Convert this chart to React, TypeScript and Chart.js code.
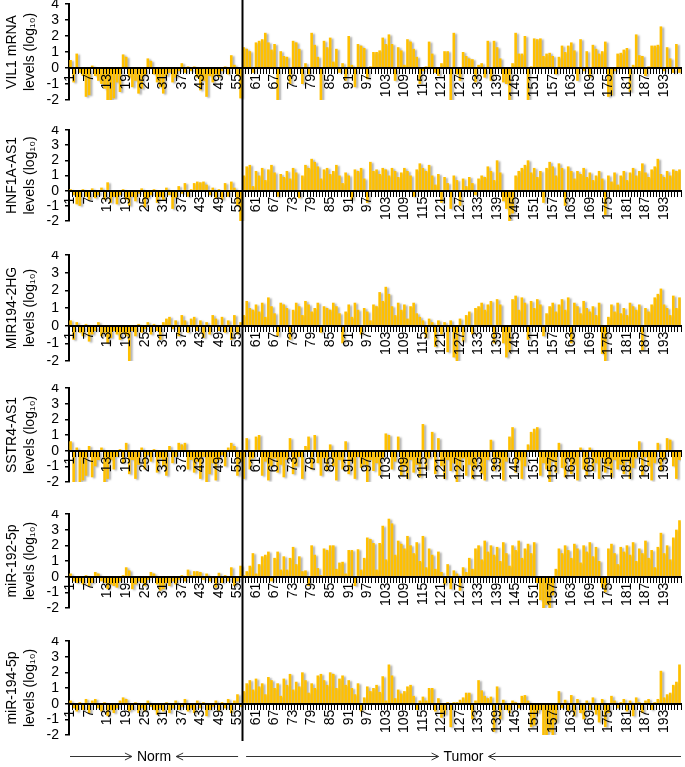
import React, { useEffect, useRef } from 'react';
import { Chart, registerables } from 'chart.js';

Chart.register(...registerables);

// ---------------- DATA ----------------
const SAMPLE_COUNT = 198;
const NORM_COUNT = 56;
const sampleLabels: string[] = Array.from({ length: SAMPLE_COUNT }, (_, i) => String(i + 1));
const LABEL_EVERY = 6;
const Y_MIN = -2;
const Y_MAX = 4;

const panelNames = ['VIL1 mRNA', 'HNF1A-AS1', 'MIR194-2HG', 'SSTR4-AS1', 'miR-192-5p', 'miR-194-5p'];
const unitLine = 'levels (log\u2081\u2080)';

const vil1 = [
  0.5, -0.9, 0.9, -0.3, -0.5, -1.8, -1.7, 0.15, -0.5, -0.8,
  -1.0, -1.3, -2.0, -2.0, -1.9, -0.9, -1.5, 0.85, 0.7, -0.6,
  -1.2, -0.8, -1.6, -1.3, -0.5, 0.6, 0.45, -0.4, -0.9, -1.2,
  -1.6, -0.5, -0.3, -0.9, -0.6, -0.2, 0.3, -0.3, 0.1, -0.2,
  0.1, -0.6, -1.4, -0.8, -1.8, -0.5, -0.9, -0.4, -0.6, -0.2,
  0.1, -0.4, 0.8, 0.2, -0.5, -1.9,
  1.3, 1.2, 1.05, -0.3,
  1.6, 1.7, 1.8, 2.2, 1.6, 1.15, 1.5, -2.0, 1.05, 0.75,
  0.7, -1.0, 1.7, 1.6, 1.2, -1.0, 0.3, -0.4, 2.2, 1.45,
  0.7, -2.0, 1.7, 1.3, 1.9, 0.4, 1.2, -0.3, 0.3, -0.8,
  2.0, 0.2, -1.2, 1.5, 1.4, 1.25, -0.7, 0.1, 1.0, 1.0,
  1.1, 1.9, 1.5, 2.1, 1.5, -0.8, 1.3, 1.1, 0.2, 1.8,
  1.65, 1.2, 0.7, -1.0, -0.2, 0.1, 1.65, 0.9, -0.3, -0.5,
  0.3, 1.05, 1.05, -2.0, 2.2, -0.4, -0.8, 1.0, 0.75, 0.6,
  0.55, -0.9, 0.2, 0.3, -0.6, 1.7, -0.8, 1.7, 1.3,
  0.6, -0.9, -1.0, -2.0, 0.3, 2.2, 0.9, 0.9, 2.0, -2.0,
  0.1, 1.85, 1.8, 1.85, 0.75, 0.9, 0.95, 0.75, -0.4, 0.7,
  1.4, 1.0, 1.4, 1.6, 1.1, -0.8, 1.8, -0.2, 1.05, -0.6,
  1.45, 1.2, 0.9, 1.05, 1.65, -1.8, -1.7, -0.2, 0.9, 0.95,
  1.15, 1.25, -1.5, 0.2, 2.1, 0.8, 0.75, -0.5, 0.1, 1.4,
  1.4, 1.45, 2.6, -0.2, 1.3, 0.6, -0.3, 1.5, -0.3,
];

const hnf1aAs1 = [
  0.1, -0.3, -0.9, -1.0, 0.1, -0.4, -0.6, 0.15, -0.5, -0.3,
  0.2, -0.6, 0.55, -0.8, -0.4, -0.9, -0.3, 0.1, -0.6, -1.0,
  -0.4, -0.7, -0.2, 0.15, -1.1, -0.5, -0.3, 0.1, -0.8, -0.4,
  -0.6, 0.2, -0.3, -1.2, -0.5, 0.3, -0.2, 0.5, -0.4, 0.1,
  0.5, 0.6, 0.55, 0.6, 0.4, -0.3, 0.2, -0.5, 0.1, -0.6,
  0.5, -0.4, 0.6, 0.2, -1.0, -2.0,
  1.0, 1.6, 1.7, 0.3,
  1.3, 1.0, 1.5, 0.7, 1.4, 1.7, 1.2, -0.4, 1.1, 0.9,
  1.3, 0.8, 1.5, 1.2, -0.5, 1.0, 1.7, 1.5, 2.1, 1.9,
  1.6, 0.8, 1.4, 1.5, 1.1, 1.3, 1.7, 1.0, 0.5, 1.2,
  1.0, -0.6, 1.4, 1.3, 1.5, 0.8, -0.8, 1.9, 1.3, 1.4,
  1.1, 1.5, 1.4, 1.0, 1.5, 1.3, 0.9, 1.2, 1.5, 1.3,
  1.0, -0.4, 1.4, 1.8, 1.5, 1.3, 1.7, 1.0, 0.4, 1.1,
  -0.8, 0.9, 0.5, -1.2, 1.0, 0.7, -1.0, 0.8, 0.3, 0.9,
  0.5, -0.3, 0.8, 1.0, 0.9, 1.6, 1.3, 0.7, 2.0,
  1.2, -0.7, -1.2, -2.0, -1.5, 1.0, 1.3, 1.5, 1.7, 2.0,
  1.2, 1.5, 0.9, 1.3, -0.8, 1.5, 1.9, 1.6, 1.0, 1.8,
  1.5, -1.0, 1.6, 1.3, 0.8, 1.3, 1.1, 1.5, 0.9, 1.2,
  0.7, 1.0, 1.3, 0.8, -1.6, 1.0, 0.6, 1.2, 0.4, 1.0,
  1.3, 0.7, 1.2, 1.5, 1.0, 1.3, 1.8, 1.2, 0.9, 1.4,
  1.6, 2.1, 1.1, 0.9, 1.3, 1.0, 1.4, 1.3, 1.4,
];

const mir1942hg = [
  0.3, -0.8, 0.2, -0.4, -0.6, 0.1, -0.9, -0.5, -0.3, 0.2,
  -0.6, -0.4, -1.0, -0.7, -0.3, -0.5, -0.8, -0.4, -0.6, -2.0,
  -0.3, -0.6, 0.1, -0.4, -0.2, 0.2, -0.5, 0.1, -0.3, -0.8,
  0.2, 0.4, 0.5, -0.2, 0.3, -0.6, 0.6, 0.3, -0.4, 0.4,
  0.5, -0.3, 0.3, -0.7, 0.2, -0.5, 0.6, 0.4, -0.3, 0.5,
  -0.4, 0.3, -0.8, 0.6, -0.5, 0.2,
  0.6, 1.4, 1.0, 0.9,
  1.2, 0.8, 1.3, 0.5, 1.6, 1.1, 0.7, -0.6, 1.3, 1.2,
  1.0, -0.8, 0.9, 1.3, 1.1, 0.6, 1.4, 1.2, 0.8, 1.0,
  1.3, -0.4, 1.1, 1.0, 0.9, 1.3, 1.1, 0.7, -1.0, 0.8,
  1.2, 0.5, 1.3, 0.9, -0.5, 1.0, 0.8, 0.3, 1.2, 1.1,
  1.9, 1.4, 2.2, 1.8, 1.1, 0.6, 1.3, 0.9, 1.2, 0.4,
  1.1, 1.3, 0.7, 0.5, 0.3, -0.7, 0.4, 0.2, -1.2, 0.3,
  -0.5, 0.2, -1.5, 0.3, -1.8, -2.0, 0.4, -0.9, 0.6, 0.8,
  -0.5, 1.0, 1.1, 1.3, 0.9, 1.2, 1.4, -1.0, 1.5,
  1.2, -1.0, -1.8, -1.5, 1.5, 1.7, 0.9, 1.6, 1.3, -0.8,
  1.4, 1.0, 1.5, 1.2, -0.6, 0.7, 1.1, 1.3, 0.8, 1.2,
  1.5, 0.9, 1.6, -1.0, 1.3, 1.1, 0.7, 1.4, 1.0, 0.8,
  1.1, 0.6, 1.3, -1.6, -2.0, 0.5, 1.2, 0.8, 1.3, 0.7,
  1.0, 0.6, 1.3, 1.1, 0.9, 1.2, -1.4, 1.0, 0.8, 1.2,
  1.6, 1.8, 2.1, 1.2, 1.0, 0.6, 1.7, 1.0, 1.6,
];

const sstr4As1 = [
  0.6, -2.0, 0.2, -2.0, -1.9, -1.6, 0.3, -1.7, -1.0, -0.6,
  0.2, -2.0, -1.8, -0.6, -1.2, -0.4, 0.1, -0.8, 0.5, -1.5,
  -0.6, -1.8, -0.9, 0.2, -1.2, -0.3, -0.7, 0.1, -1.4, -0.5,
  -1.0, -1.6, 0.3, -0.8, -0.4, 0.5, 0.4, 0.5, -1.2, -0.6,
  -1.4, -0.7, -1.8, -0.4, -2.0, -1.5, -0.8, -1.9, -0.6, -0.3,
  -1.0, 0.2, 0.5, 0.3, -1.6, -0.7,
  -1.8, 0.8, -1.2, -0.5,
  0.9, 1.0, -1.6, -0.7, -1.9, -1.0, -0.5, -1.4, -0.9, -1.7,
  -0.6, 0.8, -1.5, -1.0, -0.4, -1.8, 0.3, 0.9, -1.2, 1.0,
  -0.8, -1.6, -0.5, -1.3, 0.4, -1.0, -1.9, -0.6, -1.2, 0.6,
  -1.5, -0.7, -1.8, -0.4, -1.1, -0.9, -2.0, -0.6, -1.3, -0.8,
  -1.6, -0.5, 1.1, 1.0, -1.2, -0.7, 0.9, -1.6, -1.0, -1.8,
  -0.6, -1.4, -0.9, -1.7, 1.7, -1.2, -0.5, 1.2, -1.5, 0.8,
  -1.0, -1.8, -0.6, -1.3, -0.8, -2.0, -1.2, -0.5, -1.6, -0.9,
  -1.8, -1.1, -0.4, -1.5, -1.9, -0.6, 0.7, -1.3, -0.5,
  -1.2, -1.9, -0.7, 0.9, 1.5, -1.4, -0.6, -1.8, -1.0, 0.4,
  1.2, 1.4, 1.5, -1.6, -0.8, -1.2, -2.0, -0.7, -1.4, 0.5,
  -1.1, -1.7, -0.5, -1.5, -0.9, -1.9, 0.2, -1.2, -1.6, 0.2,
  -1.3, -0.8, -1.8, -0.5, -1.4, -1.0, -1.7, -0.6, -1.2, -0.9,
  -1.5, -0.7, -1.8, -1.1, -0.5, 0.6, -1.6, -0.4, -1.0, -1.9,
  -0.8, 0.5, -1.3, -0.6, 0.8, 0.7, -1.0, -1.8, -0.6,
];

const mir1925p = [
  0.2, -0.3, -0.4, -0.3, -0.5, 0.1, -0.6, -0.4, 0.3, 0.2,
  -0.3, -0.4, -0.8, -0.5, -0.6, -0.7, -0.3, 0.1, 0.6, 0.4,
  -0.8, -0.5, -0.3, -0.4, -0.6, -0.2, 0.3, 0.2, -0.5, -0.9,
  -0.8, -0.4, -0.6, -0.3, -0.5, -0.2, 0.1, -0.3, 0.45, 0.1,
  0.35, 0.35, 0.3, -0.2, 0.2, -0.3, -0.1, -0.7, 0.25, -0.4,
  0.1, -0.3, 0.6, -0.6, -0.3, 0.7,
  0.1, 0.35, 0.7, 1.5,
  0.2, 0.8, 1.3, 1.4, 1.6, -0.3, 1.2, 1.6, 0.45, 1.3,
  0.45, 1.2, 1.9, 0.8, 1.3, 0.35, 0.4, -0.6, 2.0, 1.4,
  0.55, 0.1, 1.8, 1.7, 2.0, 2.0, 0.5, 0.9, 0.95, 0.2,
  1.7, 1.7, -0.6, 1.75, 0.45, 1.2, 2.5, 2.4, 2.15, 0.45,
  2.15, 3.25, 1.1, 3.7, 3.4, 1.4, 2.3, 2.1, 1.8, 2.6,
  2.0, 1.5, 2.2, 1.0, 2.6, 0.6, 1.8, 1.4, 0.5, 1.6,
  0.3, -0.5, 0.8, -0.8, 0.4, 0.2, -0.9, 0.6, 0.3, 1.2,
  0.5, 1.8, 2.0, 1.1, 2.3, 1.6, 2.0, 1.4, 1.9,
  1.0, 2.2, 1.5, 0.7, 2.0, 1.7, 2.3, 1.2, 1.8, 2.1,
  1.5, 2.2, -0.4, -1.5, -2.0, -1.8, -2.0, -1.2, 0.5, 1.8,
  1.5, 2.0, 1.7, 1.2, 2.1, 1.8, 0.9, 2.0, 1.6, 2.2,
  1.3, 1.9, 1.0, -0.7, -1.0, 1.8, 2.1, 1.5, 0.8, 1.9,
  1.6, 2.0, 1.4, 2.2, 1.0, 1.8, 1.5, 2.3, 1.2, 1.7,
  0.6, 1.9, 2.8, 1.5, 2.0, 1.1, 2.5, 3.0, 3.6,
];

const mir1945p = [
  0.2, -0.3, -0.5, 0.1, -0.4, 0.3, -0.6, 0.2, 0.3, -0.3,
  -0.5, 0.1, -0.8, -0.4, -0.6, -0.3, 0.2, 0.4, 0.3, -0.5,
  -0.4, 0.1, -0.6, -0.3, -0.5, 0.2, -0.2, -0.4, -0.7, -0.3,
  -0.5, 0.1, -0.6, -0.3, 0.2, -0.4, -0.2, 0.3, -0.5, -0.3,
  -0.6, 0.2, -0.3, 0.1, -0.8, -0.4, -0.2, 0.2, -0.5, 0.1,
  -0.3, 0.3, -0.6, 0.2, 0.6, -0.2,
  0.8, 1.3, 1.5, 0.9,
  1.6, 1.1, 1.3, 0.6, 1.7, 1.5, 1.0, 1.3, 0.5, 1.6,
  1.2, 1.9, 0.9, 1.4, 1.1, 2.0, 1.5, 0.7, 1.3, 1.0,
  1.8, 1.9, 1.5, 1.2, 2.0, 1.9, 1.0, 1.6, 1.8, 1.2,
  1.5, 1.0, 0.6, 1.3, -0.5, 0.4, 1.1, 0.8, 1.0, 1.2,
  0.75, 1.75, 0.2, 2.5, 1.8, 0.35, 0.9, 0.65, 0.8, 1.1,
  1.2, 0.5, -0.4, 0.2, 0.45, 0.2, 1.0, 1.0, -0.5, 0.35,
  -0.9, -0.7, 0.1, -1.5, 0.1, 0.1, 0.25, 0.4, 0.7, 0.7,
  -1.0, 0.2, 1.5, 0.85, 0.5, 0.35, 0.45, -1.8, 1.1,
  -1.0, 0.25, -0.4, -0.6, 0.2, 0.1, -0.3, 0.5, 0.55, 0.2,
  -1.5, -1.4, -0.6, -0.4, -2.0, -2.0, -1.8, -2.0, -1.2, 0.8,
  -0.3, 0.25, -0.5, 0.55, -0.8, 0.3, -0.6, -1.0, 0.2, -0.4,
  0.4, -0.7, -1.2, 0.3, -1.5, -0.6, 0.5, 0.2, -0.3, 0.1,
  0.3, -0.5, 0.2, -0.8, 0.4, 0.1, -0.6, 0.2, 0.3, -0.4,
  0.1, 0.3, 2.1, 0.4, 0.6, 0.7, 1.2, 1.4, 2.5,
];

const panelSeries = [vil1, hnf1aAs1, mir1942hg, sstr4As1, mir1925p, mir1945p];

// ---------------- LAYOUT / STYLE ----------------
const PAGE_W = 685;
const PAGE_H = 767;
const AREA_TOPS = [4, 130, 255, 388, 514, 641];
const AREA_HEIGHTS = [96, 91, 106, 94, 94, 94];
const CANVAS_PAD_TOP = 4;
const AREA_LEFT = 69;
const AREA_RIGHT_PAD = 4;
const BAR_COLOR = '#FFC000';
const FONT_FAMILY = 'Arial, "Liberation Sans", Helvetica, sans-serif';

function canvasTop(i: number) {
  return AREA_TOPS[i] - CANVAS_PAD_TOP;
}
function canvasHeight(i: number) {
  return i < AREA_TOPS.length - 1 ? canvasTop(i + 1) - canvasTop(i) : PAGE_H - canvasTop(i);
}

function dividerX(chart: any) {
  const xs = chart.scales.x;
  return (xs.getPixelForValue(NORM_COUNT - 1) + xs.getPixelForValue(NORM_COUNT)) / 2;
}

const shadowPlugin = {
  id: 'barShadow',
  beforeDatasetsDraw(chart: any) {
    const c = chart.ctx;
    c.save();
    c.shadowColor = 'rgba(0,0,0,0.33)';
    c.shadowBlur = 2;
    c.shadowOffsetX = 2;
    c.shadowOffsetY = 1;
  },
  afterDatasetsDraw(chart: any) {
    chart.ctx.restore();
  },
};

function makeDividerPlugin(isLast: boolean) {
  return {
    id: 'normTumorDivider',
    afterDraw(chart: any) {
      const c = chart.ctx;
      const x = Math.round(dividerX(chart)) + 0.5;
      const yEnd = isLast ? chart.chartArea.bottom + 6 : chart.height;
      c.save();
      c.strokeStyle = '#000';
      c.lineWidth = 2;
      c.beginPath();
      c.moveTo(x, 0);
      c.lineTo(x, yEnd);
      c.stroke();
      c.restore();
    },
  };
}

function drawArrow(c: any, x1: number, x2: number, y: number) {
  const dir = x2 > x1 ? 1 : -1;
  c.beginPath();
  c.moveTo(x1, y);
  c.lineTo(x2, y);
  c.moveTo(x2 - dir * 7, y - 3.5);
  c.lineTo(x2, y);
  c.lineTo(x2 - dir * 7, y + 3.5);
  c.stroke();
}

const groupAnnotationPlugin = {
  id: 'groupAnnotation',
  afterDraw(chart: any) {
    const c = chart.ctx;
    const area = chart.chartArea;
    const div = dividerX(chart);
    const y = chart.height - 10.5;
    c.save();
    c.strokeStyle = '#333';
    c.lineWidth = 1;
    c.fillStyle = '#000';
    c.font = `14px ${FONT_FAMILY}`;
    c.textAlign = 'center';
    c.textBaseline = 'middle';

    const groups = [
      { name: 'Norm', from: area.left + 1, to: div - 4 },
      { name: 'Tumor', from: div + 4, to: area.right },
    ];
    for (const g of groups) {
      const mid = (g.from + g.to) / 2;
      const half = c.measureText(g.name).width / 2 + 5;
      drawArrow(c, g.from, mid - half, y);
      c.fillText(g.name, mid, y + 1);
      drawArrow(c, g.to, mid + half, y);
    }
    c.restore();
  },
};

function Panel({ index }: { index: number }) {
  const ref = useRef<HTMLCanvasElement | null>(null);
  const isLast = index === panelNames.length - 1;
  const height = canvasHeight(index);

  useEffect(() => {
    if (!ref.current) return;
    const tickFont = { family: FONT_FAMILY, size: 14 };
    const plugins: any[] = [shadowPlugin, makeDividerPlugin(isLast)];
    if (isLast) plugins.push(groupAnnotationPlugin);

    const chart = new Chart(ref.current, {
      type: 'bar',
      data: {
        labels: sampleLabels,
        datasets: [
          {
            data: panelSeries[index],
            backgroundColor: BAR_COLOR,
            borderWidth: 0,
            barPercentage: 1,
            categoryPercentage: 0.85,
          },
        ],
      },
      plugins,
      options: {
        animation: false,
        responsive: false,
        maintainAspectRatio: false,
        events: [],
        layout: {
          padding: {
            left: 0,
            right: AREA_RIGHT_PAD,
            top: CANVAS_PAD_TOP,
            bottom: height - CANVAS_PAD_TOP - AREA_HEIGHTS[index],
          },
        },
        plugins: {
          legend: { display: false },
          tooltip: { enabled: false },
          title: { display: false },
        },
        scales: {
          x: {
            type: 'category',
            position: { y: 0 } as any,
            grid: {
              display: true,
              drawOnChartArea: false,
              drawTicks: true,
              tickLength: 5,
              color: '#000',
              lineWidth: 1,
              z: 1,
            },
            border: { display: true, color: '#000', width: 2, z: 1 },
            ticks: {
              autoSkip: false,
              minRotation: 90,
              maxRotation: 90,
              padding: 1,
              color: '#000',
              font: tickFont,
              z: 1,
              callback: (_v: any, i: number) => (i % LABEL_EVERY === 0 ? sampleLabels[i] : ''),
            },
            afterFit: (scale: any) => {
              scale.paddingLeft = 0;
              scale.paddingRight = 0;
            },
          },
          y: {
            min: Y_MIN,
            max: Y_MAX,
            grid: {
              display: true,
              drawOnChartArea: false,
              drawTicks: true,
              tickLength: 4,
              color: '#000',
              lineWidth: 1.5,
            },
            border: { display: true, color: '#000', width: 2 },
            ticks: {
              stepSize: 1,
              autoSkip: false,
              padding: 6,
              color: '#000',
              font: tickFont,
              callback: (v: any) => String(v),
            },
            title: {
              display: true,
              text: [panelNames[index], unitLine],
              color: '#000',
              font: { family: FONT_FAMILY, size: 14, lineHeight: 1.3 },
              padding: { top: 3, bottom: 0 },
            },
            afterFit: (scale: any) => {
              scale.width = AREA_LEFT;
              scale.paddingTop = 0;
              scale.paddingBottom = 0;
            },
          },
        },
      } as any,
    });
    return () => chart.destroy();
  }, [index, isLast, height]);

  return (
    <canvas
      ref={ref}
      width={PAGE_W}
      height={height}
      style={{ position: 'absolute', left: 0, top: canvasTop(index), width: PAGE_W, height, display: 'block' }}
    />
  );
}

export default function App() {
  return (
    <div
      style={{
        position: 'absolute',
        left: 0,
        top: 0,
        width: PAGE_W,
        height: PAGE_H,
        background: '#fff',
        overflow: 'hidden',
      }}
    >
      {panelNames.map((_, i) => (
        <Panel key={i} index={i} />
      ))}
    </div>
  );
}
